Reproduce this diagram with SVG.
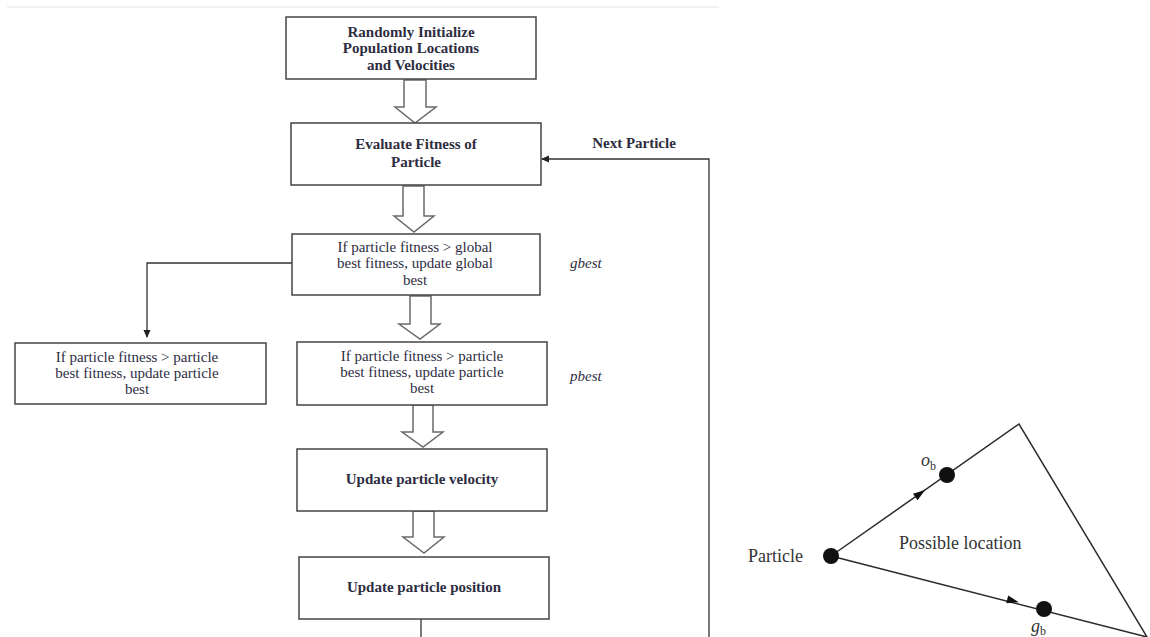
<svg xmlns="http://www.w3.org/2000/svg" width="1150" height="637" viewBox="0 0 1150 637">
<defs>
<style>
.box{fill:#fff;stroke:#444;stroke-width:1.5}
.hollow{fill:#fff;stroke:#6a6a6a;stroke-width:1.5;stroke-linejoin:miter}
.t{font-family:"Liberation Serif","Times New Roman",serif;font-size:15px;fill:#2d2d3f;text-anchor:middle}
.b{font-weight:bold}
.it{font-family:"Liberation Serif","Times New Roman",serif;font-size:15px;font-style:italic;fill:#2d2d3f}
.line{fill:none;stroke:#333;stroke-width:1.3}
.tri{fill:none;stroke:#2a2a2a;stroke-width:1.5}
.tt{font-family:"Liberation Serif","Times New Roman",serif;font-size:18px;fill:#333}
</style>
<marker id="ah" markerWidth="8" markerHeight="8" refX="7" refY="4" orient="auto" markerUnits="userSpaceOnUse">
<path d="M0,0.5 L8,4 L0,7.5 Z" fill="#222"/>
</marker>
</defs>
<rect width="1150" height="637" fill="#fff"/>
<line x1="7" y1="7" x2="719" y2="7" stroke="#ececec" stroke-width="1.5"/>

<g id="connectors">
<polygon class="hollow" points="404,80 426,80 426,107 436,107 415,123 395,107 404,107"/>
<polygon class="hollow" points="403,186 424,186 424,216 434,216 414,232 394,216 403,216"/>
<polygon class="hollow" points="410,296 431,296 431,324 440,324 420,339 399,324 410,324"/>
<polygon class="hollow" points="413,405 433,405 433,432 443,432 423,447 402,432 413,432"/>
<polygon class="hollow" points="413,511 434,511 434,537 444,537 424,553 403,537 413,537"/>
<path class="line" d="M292,263 H147 V337" marker-end="url(#ah)"/>
<path class="line" d="M709,637 V159 H542" marker-end="url(#ah)"/>
<line class="line" x1="421" y1="619" x2="421" y2="637" stroke="#555" stroke-width="2"/>
</g>

<g id="n1">
<rect class="box" x="286" y="17" width="250" height="62"/>
<text class="t b" x="411" y="37">Randomly Initialize</text>
<text class="t b" x="411" y="53">Population Locations</text>
<text class="t b" x="411" y="70">and Velocities</text>
</g>
<g id="n2">
<rect class="box" x="291" y="123" width="250" height="62"/>
<text class="t b" x="416" y="149">Evaluate Fitness of</text>
<text class="t b" x="416" y="167">Particle</text>
</g>
<g id="label-next">
<text class="t b" x="634" y="148">Next Particle</text>
</g>
<g id="n3">
<rect class="box" x="292" y="234" width="248" height="61"/>
<text class="t" x="415" y="252">If particle fitness &gt; global</text>
<text class="t" x="415" y="268">best fitness, update global</text>
<text class="t" x="415" y="285">best</text>
</g>
<g id="label-gbest">
<text class="it" x="570" y="268">gbest</text>
</g>
<g id="n4">
<rect class="box" x="15" y="343" width="251" height="61"/>
<text class="t" x="137" y="362">If particle fitness &gt; particle</text>
<text class="t" x="137" y="378">best fitness, update particle</text>
<text class="t" x="137" y="394">best</text>
</g>
<g id="n5">
<rect class="box" x="297" y="342" width="250" height="63"/>
<text class="t" x="422" y="361">If particle fitness &gt; particle</text>
<text class="t" x="422" y="377">best fitness, update particle</text>
<text class="t" x="422" y="393">best</text>
</g>
<g id="label-pbest">
<text class="it" x="570" y="381">pbest</text>
</g>
<g id="n6">
<rect class="box" x="297" y="449" width="250" height="62"/>
<text class="t b" x="422" y="484">Update particle velocity</text>
</g>
<g id="n7">
<rect class="box" x="299" y="557" width="250" height="62"/>
<text class="t b" x="424" y="592">Update particle position</text>
</g>

<g id="triangle">
<polyline class="tri" points="831,556 1019,424 1147,637 831,556"/>
<polygon points="-7,-4 5,0 -7,4" fill="#111" transform="translate(921,493) rotate(-35.1)"/>
<polygon points="-7,-4 5,0 -7,4" fill="#111" transform="translate(1014,601) rotate(14.1)"/>
<circle cx="831" cy="556" r="8" fill="#111"/>
<circle cx="947" cy="475" r="8" fill="#111"/>
<circle cx="1044" cy="609" r="8" fill="#111"/>
<text class="tt" x="748" y="562">Particle</text>
<text class="tt" x="899" y="549">Possible location</text>
<text class="tt" x="921" y="466" font-style="italic">o<tspan font-size="12" font-style="normal" dy="4">b</tspan></text>
<text class="tt" x="1031" y="632" font-style="italic">g<tspan font-size="12" font-style="normal" dy="3">b</tspan></text>
</g>
</svg>
